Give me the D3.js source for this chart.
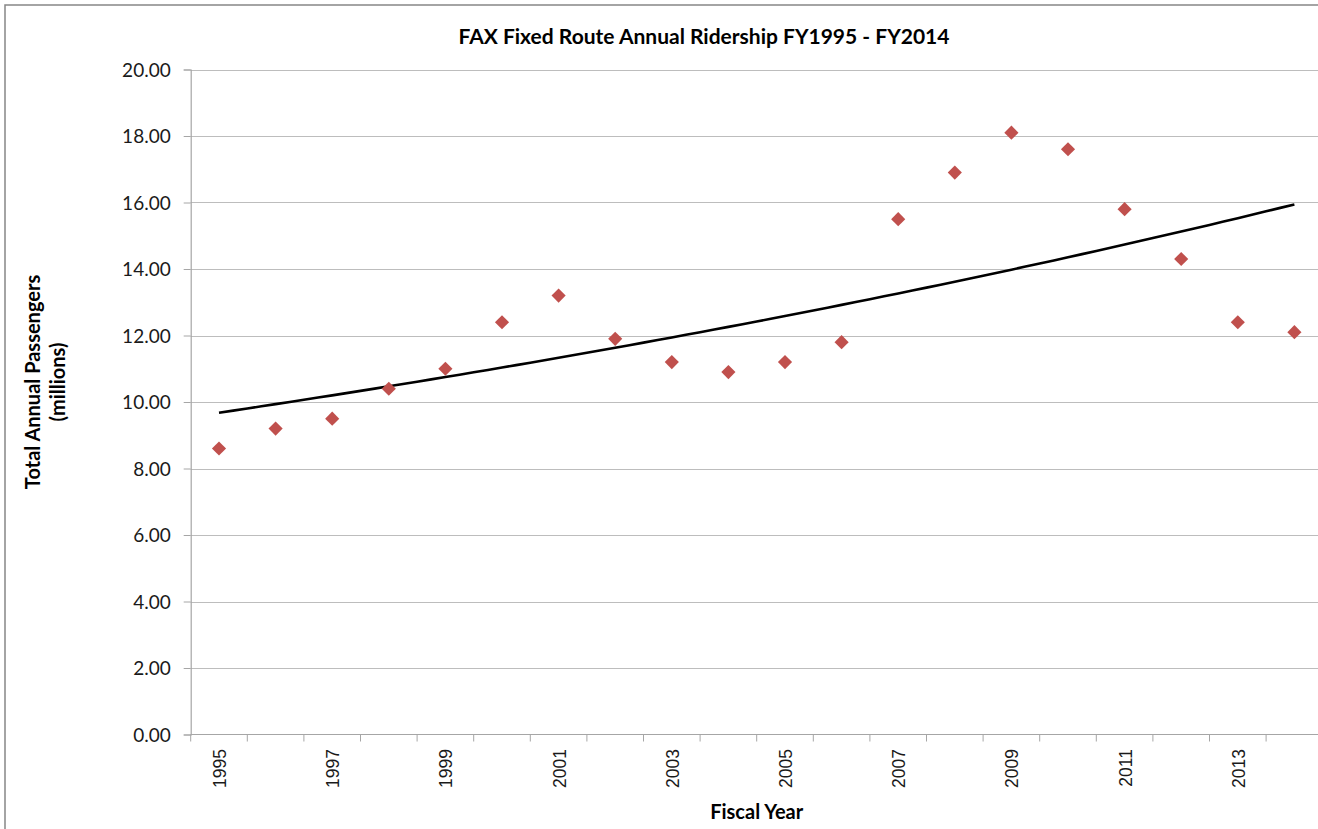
<!DOCTYPE html>
<head>
    <meta charset='utf-8'>
    <style>
        body {
            margin: 0;
            background: #fff;
        }
        .tick-y {
            font-family: Lato, 'Open Sans', sans-serif;
            font-size: 19px;
            fill: #1a1a1a;
        }
        .tick-x {
            font-family: 'Liberation Sans', Arial, sans-serif;
            font-size: 17.5px;
            fill: #1a1a1a;
        }
        .title, .axis-title {
            font-family: Lato, 'Open Sans', sans-serif;
            font-weight: bold;
            fill: #000;
        }
    </style>
</head>

<body>
<div id='vis'></div>
<script src='https://d3js.org/d3.v7.min.js'></script>
<script>
  // ridership per fiscal year (millions)
  const years = [1995, 1996, 1997, 1998, 1999, 2000, 2001, 2002, 2003, 2004,
                 2005, 2006, 2007, 2008, 2009, 2010, 2011, 2012, 2013, 2014]
  const riders = [8.6, 9.2, 9.5, 10.4, 11.0, 12.4, 13.2, 11.9, 11.2, 10.9,
                  11.2, 11.8, 15.5, 16.9, 18.1, 17.6, 15.8, 14.3, 12.4, 12.1]
  const yTicks = [0, 2, 4, 6, 8, 10, 12, 14, 16, 18, 20]
  const xLabelYears = [1995, 1997, 1999, 2001, 2003, 2005, 2007, 2009, 2011, 2013]

  const W = 1318, H = 829
  const plot = {left: 190.7, top: 69.5, right: 1322.7, bottom: 734.5}

  const svg = d3.select('#vis')
    .append('svg')
    .attr('width', W)
    .attr('height', H)

  // outer chart frame
  svg.append('rect')
    .attr('x', 5).attr('y', 5)
    .attr('width', W + 20).attr('height', H + 20)
    .attr('fill', '#fff')
    .attr('stroke', '#868686')
    .attr('stroke-width', 1.5)

  const x = d3.scaleBand()
    .domain(years)
    .range([plot.left, plot.right])
    .padding(0)

  const y = d3.scaleLinear()
    .domain([0, 20])
    .range([plot.bottom, plot.top])

  // gridlines
  svg.append('g')
    .selectAll('line')
    .data(yTicks.filter(d => d > 0))
    .enter()
    .append('line')
    .attr('x1', plot.left)
    .attr('x2', plot.right)
    .attr('y1', d => Math.round(y(d)) + 0.5)
    .attr('y2', d => Math.round(y(d)) + 0.5)
    .attr('stroke', '#bdbdbd')
    .attr('stroke-width', 1)

  // y axis
  const yAxis = svg.append('g')
    .attr('transform', `translate(${plot.left}, 0)`)
    .call(d3.axisLeft(y).tickValues(yTicks).tickSize(7).tickPadding(13).tickFormat(d3.format('.2f')))
  yAxis.select('.domain').attr('stroke', '#a6a6a6').attr('stroke-width', 1.2)
  yAxis.selectAll('.tick line').attr('stroke', '#a6a6a6')
  yAxis.selectAll('.tick text').attr('class', 'tick-y').attr('dy', '0.36em')
  yAxis.attr('font-family', null).attr('font-size', null)

  // x axis: ticks between categories
  const xAxis = svg.append('g')
  xAxis.append('line')
    .attr('x1', plot.left).attr('x2', plot.right)
    .attr('y1', plot.bottom).attr('y2', plot.bottom)
    .attr('stroke', '#a6a6a6')
    .attr('stroke-width', 1.2)
  xAxis.selectAll('.xt')
    .data(years)
    .enter()
    .append('line')
    .attr('class', 'xt')
    .attr('x1', d => x(d)).attr('x2', d => x(d))
    .attr('y1', plot.bottom).attr('y2', plot.bottom + 7)
    .attr('stroke', '#a6a6a6')
  xAxis.selectAll('text')
    .data(xLabelYears)
    .enter()
    .append('text')
    .attr('class', 'tick-x')
    .attr('transform', d => `translate(${x(d) + x.bandwidth() / 2 + 7}, 749) rotate(-90)`)
    .attr('text-anchor', 'end')
    .text(d => d)

  // exponential trend line (least squares on ln y)
  const n = riders.length
  const idx = d3.range(1, n + 1)
  const lnY = riders.map(Math.log)
  const mx = d3.mean(idx), my = d3.mean(lnY)
  const b = d3.sum(idx, (d, i) => (d - mx) * (lnY[i] - my)) / d3.sum(idx, d => (d - mx) * (d - mx))
  const a = my - b * mx
  const xi = d3.scaleLinear()
    .domain([1, n])
    .range([x(years[0]) + x.bandwidth() / 2, x(years[n - 1]) + x.bandwidth() / 2])
  const trend = d3.range(1, n + 0.001, 0.25).map(t => [xi(t), y(Math.exp(a + b * t))])

  svg.append('path')
    .datum(trend)
    .attr('d', d3.line())
    .attr('fill', 'none')
    .attr('stroke', '#000')
    .attr('stroke-width', 2.6)

  // diamond markers
  svg.append('g')
    .selectAll('path')
    .data(years)
    .enter()
    .append('path')
    .attr('d', d3.symbol(d3.symbolSquare, 100))
    .attr('transform', (d, i) => `translate(${x(d) + x.bandwidth() / 2}, ${y(riders[i])}) rotate(45)`)
    .attr('fill', '#c0504d')

  // titles
  svg.append('text')
    .attr('class', 'title')
    .attr('x', 704).attr('y', 44)
    .attr('text-anchor', 'middle')
    .style('font-size', '21px')
    .text('FAX Fixed Route Annual Ridership FY1995 - FY2014')

  svg.append('text')
    .attr('class', 'axis-title')
    .attr('x', (plot.left + plot.right) / 2).attr('y', 819)
    .attr('text-anchor', 'middle')
    .style('font-size', '20px')
    .text('Fiscal Year')

  const yt = svg.append('text')
    .attr('class', 'axis-title')
    .attr('transform', 'translate(40, 382) rotate(-90)')
    .attr('text-anchor', 'middle')
    .style('font-size', '20px')
  yt.append('tspan').attr('x', 0).attr('y', 0).text('Total Annual Passengers')
  yt.append('tspan').attr('x', 0).attr('y', 25).text('(millions)')
</script>
</body>
